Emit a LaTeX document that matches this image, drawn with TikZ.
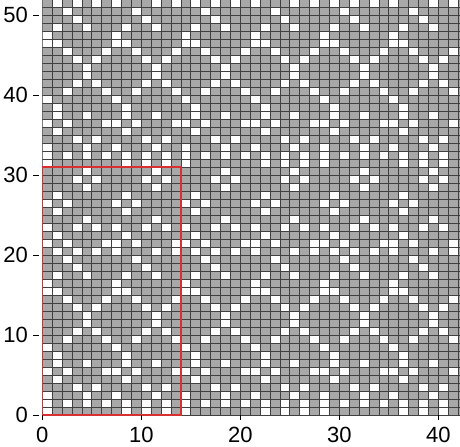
\documentclass[tikz,border=0pt]{standalone}
\usepackage{fontspec}
\setmainfont{Liberation Sans}
\usetikzlibrary{positioning}

\definecolor{cellgray}{RGB}{168,168,168}
\definecolor{linegray}{RGB}{64,64,64}
\definecolor{repeatred}{RGB}{214,48,48}

\begin{document}
\begin{tikzpicture}[
  x=9.9pt, y=8pt,
  gridline/.style={draw=linegray, line width=0.7pt},
  stitch/.style={fill=white},
  repeatbox/.style={draw=repeatred, line width=1.6pt},
  ticklabel/.style={font=\fontsize{22}{26}\selectfont, inner sep=0pt},
  tickmark/.style={draw=black, line width=0.8pt},
]
  \useasboundingbox (-4.273,-3.84) rectangle (42.19,51.91);

  % chart: gray ground, white stitches, grid
  \begin{scope}
    \clip (0,0) rectangle (42.19,51.91);
    \fill[cellgray] (0,0) rectangle (43,52);
    \foreach \r/\cs in {
      30/{4,11}, 29/{3,5,10,12}, 28/{4,11}, 27/{1,8},
      26/{0,2,7,9}, 25/{1,8}, 24/{4,11}, 23/{0,3,5,7,10,12},
      22/{1,8}, 21/{0,2,6,7,9,13}, 20/{1,3,5,7,11,13}, 19/{2,9},
      18/{3,10}, 17/{1,4,8,11}, 16/{0,7}, 15/{0,1,7,8},
      14/{2,6,9,13}, 13/{3,5,10,12}, 12/{4,11}, 11/{4,11},
      10/{3,5,10,12}, 9/{2,6,9,13}, 8/{0,7}, 7/{1,8},
      6/{1,4,8,11}, 5/{0,2,6,7,9,13}, 4/{1,8}, 3/{3,5,10,12},
      2/{0,4,7,11}, 1/{0,2,4,6,8,10,12}, 0/{0,8,10,12}}{
      \foreach \c in \cs {
        \foreach \i in {0,1,2} {
          \foreach \j in {0,1} {
            \fill[stitch] ({\c+14*\i},{\r+31*\j}) rectangle +(1,1);
          }
        }
      }
    }
    \foreach \c in {0,...,43} {
      \draw[gridline] (\c,0) -- (\c,52);
    }
    \foreach \r in {0,...,52} {
      \draw[gridline] (0,\r) -- (43,\r);
    }
  \end{scope}

  % repeat
  \coordinate (rpt-sw) at (0,0);
  \coordinate (rpt-ne) at (14,31);
  \draw[repeatbox] (rpt-sw) -- (rpt-sw -| rpt-ne) -- (rpt-ne)
    -- (rpt-ne -| rpt-sw) -- cycle;

  % axes
  \foreach \v in {0,10,...,50} {
    \draw[tickmark] (-0.94,\v) -- (-0.33,\v);
    \node[ticklabel, anchor=east] (ylab\v) at (-1.45,\v) {\v};
  }
  \foreach \v in {0,10,...,40} {
    \draw[tickmark] (\v,0) -- (\v,-0.6);
    \node[ticklabel, anchor=north] (xlab\v) at (\v,-1.4) {\v};
  }
\end{tikzpicture}
\end{document}
